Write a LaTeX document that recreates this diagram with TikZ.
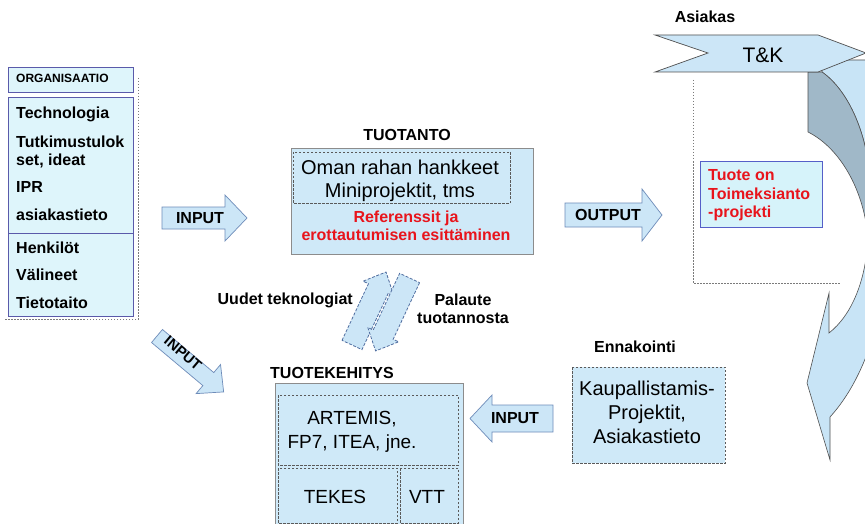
\documentclass[tikz,border=0pt]{standalone}
\usepackage{fontspec}
\setmainfont{Liberation Sans}
\usetikzlibrary{calc}

\definecolor{boxfill}{RGB}{207,233,248}
\definecolor{orgfill}{RGB}{222,245,251}
\definecolor{orgline}{RGB}{90,90,170}
\definecolor{tuotefill}{RGB}{214,243,250}
\definecolor{tuoteline}{RGB}{85,95,200}
\definecolor{arrowfill}{RGB}{204,230,247}
\definecolor{arrowline}{RGB}{110,140,185}
\definecolor{framegray}{RGB}{140,140,140}
\definecolor{dashgray}{RGB}{90,90,90}
\definecolor{redtext}{RGB}{232,20,28}
\definecolor{ribbonlight}{RGB}{200,228,246}
\definecolor{ribbondark}{RGB}{160,184,200}
\definecolor{ribbonline}{RGB}{80,80,80}
\definecolor{slantline}{RGB}{80,110,160}

\begin{document}
\begin{tikzpicture}[x=1pt,y=-1pt,
  boldtxt/.style={font=\fontsize{16}{18}\selectfont\bfseries, inner sep=0pt},
  smalltxt/.style={font=\fontsize{12}{14}\selectfont\bfseries, inner sep=0pt},
  regtxt/.style={font=\fontsize{20}{22}\selectfont, inner sep=0pt},
  midtxt/.style={font=\fontsize{19}{21}\selectfont, inner sep=0pt},
  redtxt/.style={boldtxt, text=redtext},
  blockarrow/.style={draw=arrowline, fill=arrowfill, line width=0.7pt, line join=miter},
  slantarrow/.style={draw=slantline, fill=arrowfill, line width=0.8pt, dash pattern=on 3pt off 1.6pt},
  innerdash/.style={draw=dashgray, line width=0.7pt, dash pattern=on 2.5pt off 1.5pt},
  dotline/.style={draw=dashgray!80, line width=0.7pt, dash pattern=on 1.5pt off 1.5pt},
  orgbox/.style={draw=orgline, fill=orgfill, line width=0.9pt},
  graybox/.style={draw=framegray, fill=boxfill, line width=0.8pt}
]
\useasboundingbox (0,0) rectangle (865,524);
\fill[white] (0,0) rectangle (865,524);

% ---------- ORGANISAATIO column ----------
\draw[dotline] (138,78) -- (138,319) -- (4,319);
\draw[orgbox] (8,67) rectangle (133,92);
\draw[orgbox] (8,97) rectangle (133,233);
\draw[orgbox] (8,233) rectangle (133,316);
\node[smalltxt, anchor=base west] (org) at (16,82.3) {ORGANISAATIO};
\node[boldtxt, anchor=base west] (o1) at (16,118.7) {Technologia};
\node[boldtxt, anchor=base west] (o2) at (16,147.7) {Tutkimustulok};
\node[boldtxt, anchor=base west] (o3) at (16,165.7) {set, ideat};
\node[boldtxt, anchor=base west] (o4) at (16,192.7) {IPR};
\node[boldtxt, anchor=base west] (o5) at (16,220.7) {asiakastieto};
\node[boldtxt, anchor=base west] (o6) at (16,253.7) {Henkilöt};
\node[boldtxt, anchor=base west] (o7) at (16,280.7) {Välineet};
\node[boldtxt, anchor=base west] (o8) at (16,308.7) {Tietotaito};

% ---------- INPUT towards TUOTANTO ----------
\draw[blockarrow] (162,207) -- (225,207) -- (225,195) -- (247,218) -- (225,241) -- (225,229) -- (162,229) -- cycle;
\node[boldtxt] (in1) at (200,218) {INPUT};

% ---------- TUOTANTO ----------
\node[boldtxt] (tuotanto) at (407,135) {TUOTANTO};
\draw[graybox] (291,148) rectangle (533,254);
\draw[innerdash] (293,152) rectangle (510,203);
\node[regtxt, anchor=base] (oman) at (400,175) {Oman rahan hankkeet};
\node[regtxt, anchor=base] (mini) at (400,197) {Miniprojektit, tms};
\node[redtxt, anchor=base] (ref1) at (406,222.5) {Referenssit ja};
\node[redtxt, anchor=base] (ref2) at (406,240.5) {erottautumisen esittäminen};

% ---------- OUTPUT ----------
\draw[blockarrow] (565,203) -- (642,203) -- (642,189) -- (662,215) -- (642,241) -- (642,227) -- (565,227) -- cycle;
\node[boldtxt] (out) at (608,215) {OUTPUT};

% ---------- curved return ribbon on the right ----------
\begin{scope}
  \clip (0,0) rectangle (865,524);
  \filldraw[fill=ribbonlight, draw=ribbonline, line width=0.6pt]
    (822,72) .. controls (855,95) and (880,160) .. (868,238)
    .. controls (866,280) and (852,315) .. (829,333)
    -- (829,293) -- (807,383) -- (830,460) -- (830,417)
    .. controls (850,395) and (865,365) .. (875,330)
    -- (905,330) -- (905,60) -- (822,60) -- cycle;
  \filldraw[fill=ribbondark, draw=ribbonline, line width=0.6pt]
    (808,72) -- (808,132) .. controls (840,148) and (864,190) .. (868,238)
    .. controls (880,160) and (855,95) .. (822,72) -- cycle;
\end{scope}

% ---------- Asiakas / T&K ----------
\node[boldtxt] (asiakas) at (705,17) {Asiakas};
\draw[draw=ribbonline, fill=arrowfill, line width=0.7pt]
  (655,35) -- (818,35) -- (866,53) -- (818,72) -- (655,72) -- (708,53) -- cycle;
\node[font=\fontsize{21}{23}\selectfont, inner sep=0pt] (tk) at (763,55) {T\&K};
\draw[dotline] (693,80) -- (693,283) -- (840,283);
\draw[draw=tuoteline, fill=tuotefill, line width=0.9pt] (700,161) rectangle (822,227);
\node[redtxt, anchor=base west] (tu1) at (708,181) {Tuote on};
\node[redtxt, anchor=base west] (tu2) at (708,199) {Toimeksianto};
\node[redtxt, anchor=base west] (tu3) at (708,217.5) {-projekti};

% ---------- feedback arrows between TUOTANTO and TUOTEKEHITYS ----------
\begin{scope}[shift={(352,345)}, rotate=65]
  \draw[slantarrow] (0,-11) -- (62.5,-11) -- (62.5,-17) -- (80.5,0) -- (62.5,17) -- (62.5,11) -- (0,11) -- cycle;
\end{scope}
\begin{scope}[shift={(409.6,278)}, rotate=245]
  \draw[slantarrow] (0,-11) -- (62.5,-11) -- (62.5,-17) -- (80.5,0) -- (62.5,17) -- (62.5,11) -- (0,11) -- cycle;
\end{scope}
\node[boldtxt, anchor=base east] (uudet) at (353,304.7) {Uudet teknologiat};
\node[boldtxt] (pal1) at (463,300) {Palaute};
\node[boldtxt] (pal2) at (463,318) {tuotannosta};

% ---------- diagonal INPUT ----------
\begin{scope}[shift={(157,336)}, rotate=-40]
  \draw[blockarrow] (0,-8.5) -- (67,-8.5) -- (67,-19) -- (87,0) -- (67,19) -- (67,8.5) -- (0,8.5) -- cycle;
\end{scope}
\node[font=\fontsize{14.5}{16}\selectfont\bfseries, inner sep=0pt, rotate=-40] (in2) at (183,353) {INPUT};

% ---------- TUOTEKEHITYS ----------
\node[boldtxt] (tke) at (332,373) {TUOTEKEHITYS};
\draw[graybox] (275,383) rectangle (463,530);
\draw[innerdash] (278,395) rectangle (458,465);
\draw[innerdash] (278,468) rectangle (397,523);
\draw[innerdash] (400,468) rectangle (458,523);
\node[midtxt, anchor=base] (art) at (352,424.8) {ARTEMIS,};
\node[midtxt, anchor=base] (fp7) at (352,448.8) {FP7, ITEA, jne.};
\node[midtxt, anchor=base] (tekes) at (335,503.8) {TEKES};
\node[midtxt, anchor=base] (vtt) at (427,503.8) {VTT};

% ---------- INPUT from Ennakointi ----------
\draw[blockarrow] (553,405) -- (492,405) -- (492,395) -- (470,418.5) -- (492,442) -- (492,432) -- (553,432) -- cycle;
\node[boldtxt] (in3) at (515,418.5) {INPUT};

% ---------- Ennakointi ----------
\node[boldtxt] (enn) at (635,347) {Ennakointi};
\draw[innerdash, fill=boxfill] (572,367) rectangle (725,463);
\node[regtxt, anchor=base] (k1) at (647,395.2) {Kaupallistamis-};
\node[regtxt, anchor=base] (k2) at (647,419.2) {Projektit,};
\node[regtxt, anchor=base] (k3) at (647,443.2) {Asiakastieto};
\end{tikzpicture}
\end{document}
